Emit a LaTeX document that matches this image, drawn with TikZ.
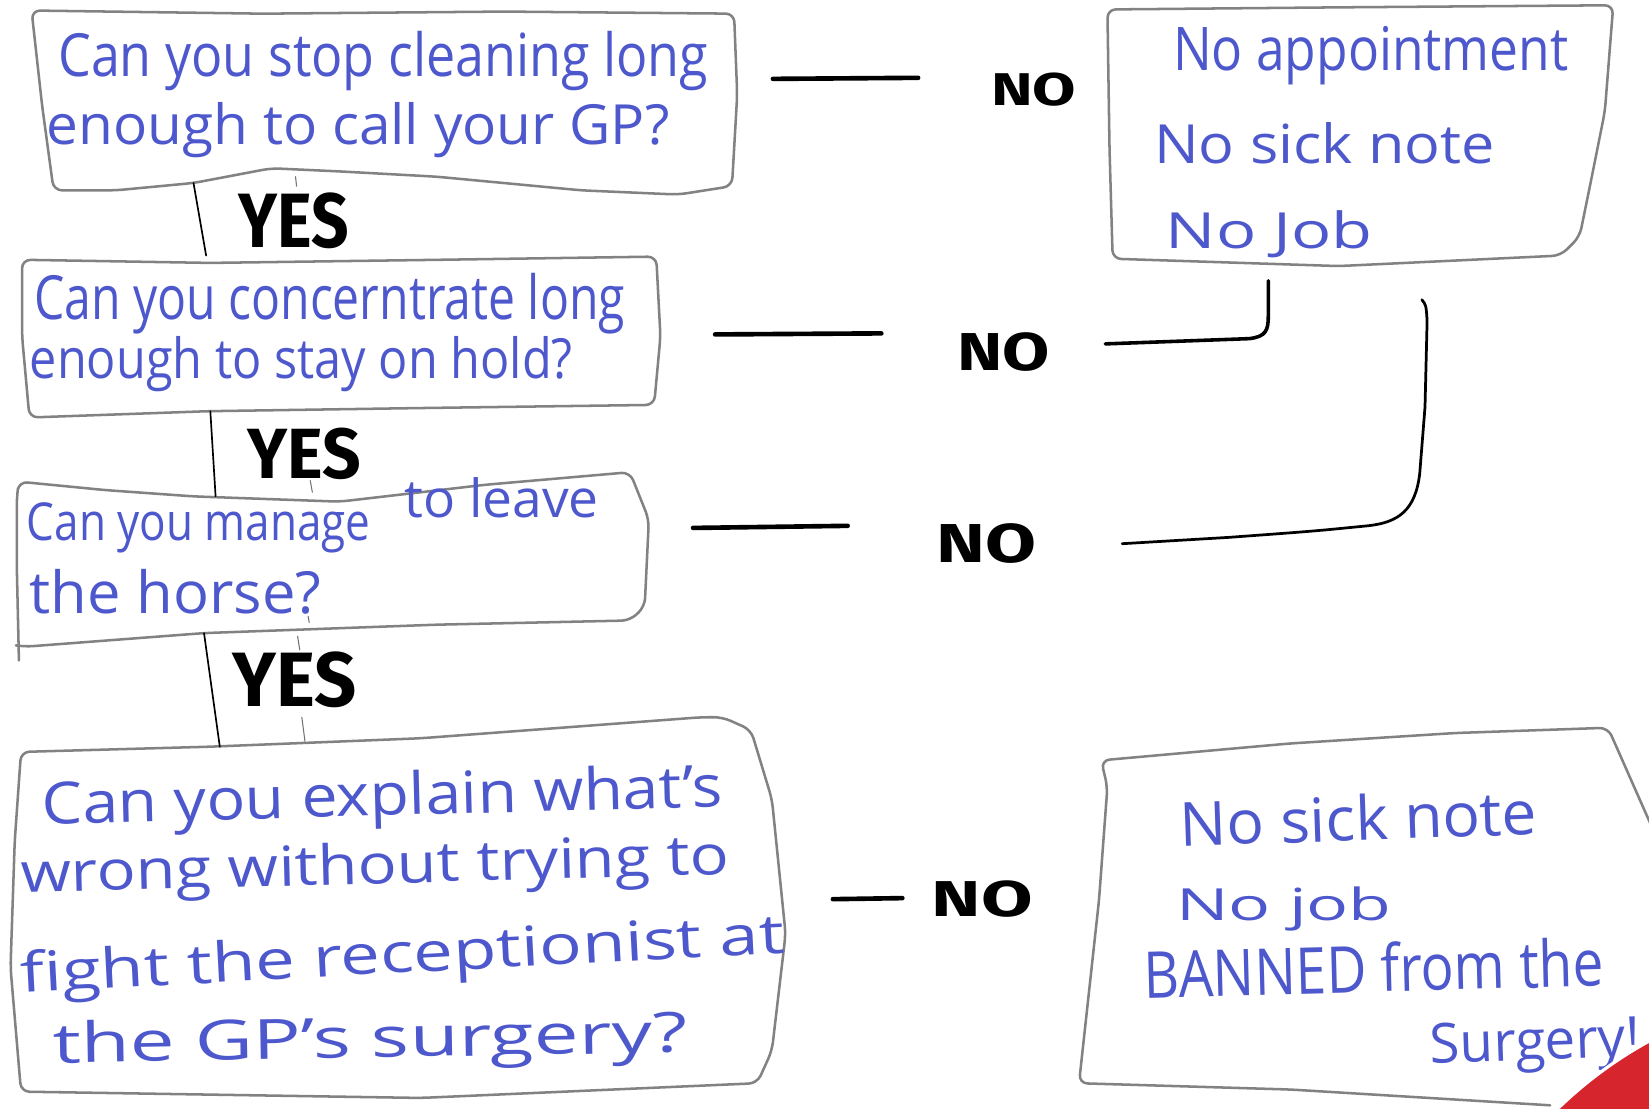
\documentclass[tikz,border=0pt]{standalone}
\usepackage{fontspec}
\setmainfont{Open Sans}
\newfontfamily\markfont{Fira Sans}
\usepackage{graphicx}
\definecolor{ink}{RGB}{78,88,205}
\definecolor{pencil}{RGB}{130,130,130}
\definecolor{badge}{RGB}{214,37,45}
\newcommand\hw[3]{\resizebox{\dimexpr #1pt/2\relax}{\dimexpr #2pt/2\relax}{#3}}
\tikzset{
  boxline/.style={draw=pencil, line width=1.2pt, line join=round, line cap=round, rounded corners=4pt},
  hand/.style={text=ink, inner sep=0pt, anchor=base west},
  yesno/.style={text=black, inner sep=0pt, font=\markfont\bfseries},
  yesline/.style={draw=black, line width=0.8pt, line cap=round},
  noline/.style={draw=black, line width=2.2pt, line cap=round},
  bracket/.style={draw=black, line width=1.7pt, line cap=round, line join=round},
  penmark/.style={draw=black!55, line width=0.5pt, line cap=round},
}
\begin{document}
\begin{tikzpicture}[x=0.5pt,y=-0.5pt]
\useasboundingbox (0,0) rectangle (1568,1054);
\fill[white] (0,0) rectangle (1568,1054);
\begin{scope}
\clip (0,0) rectangle (1568,1054);

% ---------- question boxes ----------
\draw[boxline] (30,10) -- (250,13) -- (480,11) -- (698,13) -- (701,90) -- (696,177)
  -- (645,185) -- (553,181) -- (415,168) -- (323,163) -- (258,160) -- (184,174) -- (110,181) -- (51,181)
  -- (40,100) -- cycle;
\draw[boxline] (21,247) -- (200,250) -- (420,247) -- (624,244) -- (628,320) -- (622,385)
  -- (400,388) -- (198,391) -- (28,397) -- (21,320) -- cycle;
\draw[boxline] (18,628) -- (16,540) -- (16,472) -- (18,458) -- (100,466) -- (184,472) -- (323,477)
  -- (461,461) -- (599,449) -- (617,494) -- (613,577) -- (599,590) -- (415,594) -- (194,602)
  -- (23,615) -- (17,614);
\draw[boxline] (20,715) -- (200,710) -- (400,702) -- (667,682) -- (687,682) -- (714,694) -- (734,760)
  -- (747,888) -- (734,999) -- (720,1030) -- (400,1044) -- (20,1038) -- (10,920) -- (14,800) -- cycle;

% ---------- answer boxes ----------
\draw[boxline] (1053,9) -- (1273,7) -- (1534,5) -- (1526,106) -- (1512,176) -- (1502,225) -- (1484,243)
  -- (1273,253) -- (1058,246) -- (1055,141) -- cycle;
\draw[boxline] (1590,830) -- (1529,692) -- (1384,697) -- (1226,707) -- (1047,723) -- (1053,748)
  -- (1045,856) -- (1026,1030) -- (1227,1036) -- (1474,1051);

% ---------- texts ----------
\node[hand] (q1a) at (55,73)  {\hw{618}{43}{Can you stop cleaning long}};
\node[hand] (q1b) at (44,137) {\hw{592}{40}{enough to call your GP?}};
\node[hand] (q2a) at (32,304) {\hw{562}{44}{Can you concerntrate long}};
\node[hand] (q2b) at (28,360) {\hw{516}{40}{enough to stay on hold?}};
\node[hand] (q3a) at (25,514) {\hw{327}{36}{Can you manage}};
\node[hand] (q3c) at (384,492) {\hw{185}{38}{to leave}};
\node[hand] (q3b) at (28,583) {\hw{277}{42}{the horse?}};
\node[hand, rotate=1.5] (q4a) at (40,784) {\hw{647}{42}{Can you explain what's}};
\node[hand, rotate=1.5] (q4b) at (20,849) {\hw{674}{40}{wrong without trying to}};
\node[hand, rotate=3] (q4c) at (20,944) {\hw{727}{40}{fight the receptionist at}};
\node[hand, rotate=1] (q4d) at (50,1011) {\hw{604}{40}{the GP's surgery?}};

\node[hand] (r1a) at (1115,67)  {\hw{376}{42}{No appointment}};
\node[hand] (r1b) at (1097,155) {\hw{324}{39}{No sick note}};
\node[hand] (r1c) at (1108,236) {\hw{197}{36}{No Job}};
\node[hand, rotate=2] (r2a) at (1122,805) {\hw{340}{44}{No sick note}};
\node[hand] (r2b) at (1118,875) {\hw{205}{32}{No job}};
\node[hand, rotate=1.5] (r2c) at (1088,949) {\hw{437}{47}{BANNED from the}};
\node[hand, rotate=2] (r2d) at (1360,1011) {\hw{200}{38}{Surgery!}};

% ---------- YES labels and connectors ----------
\node[yesno, anchor=base west] (yes1) at (226,235) {\hw{105}{52}{YES}};
\node[yesno, anchor=base west] (yes2) at (235,455) {\hw{108}{48}{YES}};
\node[yesno, anchor=base west] (yes3) at (221,672) {\hw{118}{52}{YES}};
\coordinate (c1t) at (184,174); \coordinate (c1b) at (196,243);
\coordinate (c2t) at (200,391); \coordinate (c2b) at (205,472);
\coordinate (c3t) at (194,602); \coordinate (c3b) at (209,710);
\draw[yesline] (c1t) -- (c1b);
\draw[yesline] (c2t) -- (c2b);
\draw[yesline] (c3t) -- (c3b);
\draw[penmark] (281,168) -- (282,177);
\draw[penmark] (295,457) -- (297,468);
\draw[penmark] (293,586) -- (294,592);
\draw[penmark] (283,605) -- (285,618);
\draw[penmark] (287,682) -- (290,705);

% ---------- NO labels and connectors ----------
\node[yesno] (no1) at (983,85)  {\hw{81}{31}{NO}};
\node[yesno] (no2) at (954,335) {\hw{88}{36}{NO}};
\node[yesno] (no3) at (938,517) {\hw{95}{37}{NO}};
\node[yesno] (no4) at (934,855) {\hw{96}{34}{NO}};
\coordinate (d1a) at (735,75);  \coordinate (d1b) at (873,74);
\coordinate (d2a) at (680,318); \coordinate (d2b) at (838,317);
\coordinate (d3a) at (659,502); \coordinate (d3b) at (806,500);
\coordinate (d4a) at (792,855); \coordinate (d4b) at (858,854);
\draw[noline] (d1a) -- (d1b);
\draw[noline] (d2a) -- (d2b);
\draw[noline] (d3a) -- (d3b);
\draw[noline] (d4a) -- (d4b);

\coordinate (l1s) at (1051,327); \coordinate (l1e) at (1206,267);
\draw[bracket] (l1s) -- (1188,322) .. controls (1204,320) and (1206,314) .. (1206,300) -- (l1e);
\coordinate (l2s) at (1352,285); \coordinate (l2e) at (1067,517);
\draw[bracket, line width=1.3pt] (l2s) .. controls (1356,290) .. (1357,305) -- (1355,387) -- (1350,450)
  .. controls (1346,485) and (1330,497) .. (1300,500) .. controls (1250,505) .. (1168,511) -- (l2e);

% ---------- red corner ----------
\fill[badge, draw=white, line width=1.5pt] (1760,1341) circle (400);
\end{scope}
\end{tikzpicture}
\end{document}
